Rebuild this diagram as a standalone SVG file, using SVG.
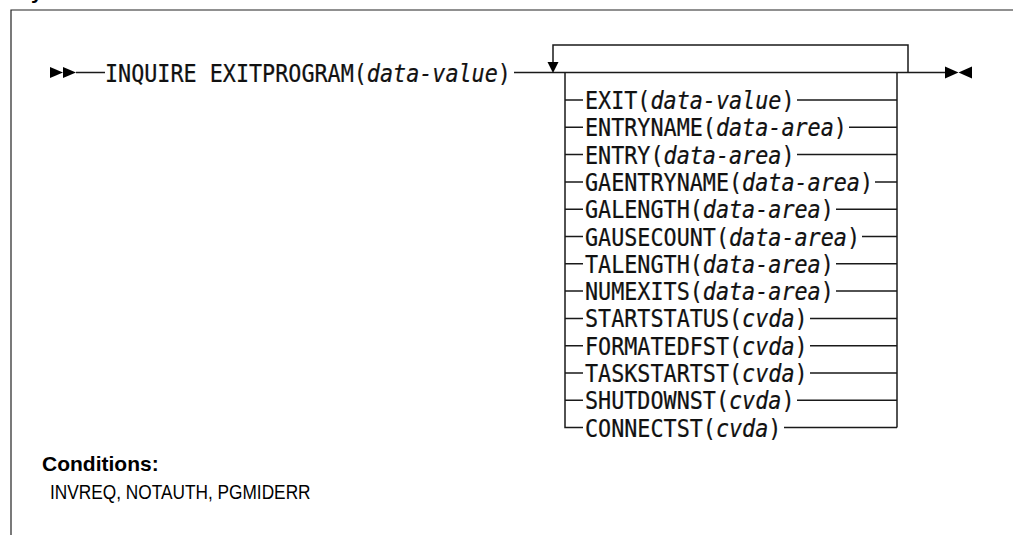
<svg xmlns="http://www.w3.org/2000/svg" width="1013" height="535" viewBox="0 0 1013 535">
<style>
.ln{stroke:#1a1a1a;stroke-width:1.5;fill:none}
.fr{stroke:#222;stroke-width:1.2;fill:none}
.ah{fill:#000;stroke:none}
.m{font-family:"DejaVu Sans Mono","Liberation Mono",monospace;font-size:25px;fill:#111;stroke:#111;stroke-width:0.25}
.i{font-style:italic}
.h{font-family:"Liberation Sans",Arial,sans-serif;font-size:20px;fill:#000}
.b{font-weight:bold;font-size:21px}
</style>
<rect width="1013" height="535" fill="#fff"/>
<g id="frame">
<text class="h b" x="31" y="-1">y</text>
<path class="fr" d="M11 535 V10 H1013"/>
</g>
<g id="connectors">
<path class="ln" d="M76 72.5 H105"/>
<path class="ln" d="M514 72.5 H945"/>
<path class="ln" d="M908 72.5 V45 H553 V63"/>
<path class="ln" d="M565 72.5 V427.6 H583"/>
<path class="ln" d="M897 72.5 V427.6"/>
<path class="ln" d="M565 100 H583 M797 100 H897"/>
<path class="ln" d="M565 127.3 H583 M849 127.3 H897"/>
<path class="ln" d="M565 154.6 H583 M797 154.6 H897"/>
<path class="ln" d="M565 181.9 H583 M875 181.9 H897"/>
<path class="ln" d="M565 209.2 H583 M836 209.2 H897"/>
<path class="ln" d="M565 236.5 H583 M862 236.5 H897"/>
<path class="ln" d="M565 263.8 H583 M836 263.8 H897"/>
<path class="ln" d="M565 291.1 H583 M836 291.1 H897"/>
<path class="ln" d="M565 318.4 H583 M810 318.4 H897"/>
<path class="ln" d="M565 345.7 H583 M810 345.7 H897"/>
<path class="ln" d="M565 373 H583 M810 373 H897"/>
<path class="ln" d="M565 400.3 H583 M797 400.3 H897"/>
<path class="ln" d="M784 427.6 H897"/>
<polygon class="ah" points="547.5,62 558.5,62 553,73"/>
<polygon class="ah" points="50,67 50,78 63,72.5"/>
<polygon class="ah" points="63,67 63,78 76,72.5"/>
<polygon class="ah" points="945,66.5 945,78.5 958.5,72.5"/>
<polygon class="ah" points="972,66.5 972,78.5 958.5,72.5"/>
</g>
<g id="command">
<text class="m" transform="translate(105 81.5) scale(0.8704 1)">INQUIRE EXITPROGRAM(<tspan class="i">data-value</tspan>)</text>
</g>
<g id="opt-exit"><text class="m" transform="translate(585 109) scale(0.8704 1)">EXIT(<tspan class="i">data-value</tspan>)</text></g>
<g id="opt-entryname"><text class="m" transform="translate(585 136.3) scale(0.8704 1)">ENTRYNAME(<tspan class="i">data-area</tspan>)</text></g>
<g id="opt-entry"><text class="m" transform="translate(585 163.6) scale(0.8704 1)">ENTRY(<tspan class="i">data-area</tspan>)</text></g>
<g id="opt-gaentryname"><text class="m" transform="translate(585 190.9) scale(0.8704 1)">GAENTRYNAME(<tspan class="i">data-area</tspan>)</text></g>
<g id="opt-galength"><text class="m" transform="translate(585 218.2) scale(0.8704 1)">GALENGTH(<tspan class="i">data-area</tspan>)</text></g>
<g id="opt-gausecount"><text class="m" transform="translate(585 245.5) scale(0.8704 1)">GAUSECOUNT(<tspan class="i">data-area</tspan>)</text></g>
<g id="opt-talength"><text class="m" transform="translate(585 272.8) scale(0.8704 1)">TALENGTH(<tspan class="i">data-area</tspan>)</text></g>
<g id="opt-numexits"><text class="m" transform="translate(585 300.1) scale(0.8704 1)">NUMEXITS(<tspan class="i">data-area</tspan>)</text></g>
<g id="opt-startstatus"><text class="m" transform="translate(585 327.4) scale(0.8704 1)">STARTSTATUS(<tspan class="i">cvda</tspan>)</text></g>
<g id="opt-formatedfst"><text class="m" transform="translate(585 354.7) scale(0.8704 1)">FORMATEDFST(<tspan class="i">cvda</tspan>)</text></g>
<g id="opt-taskstartst"><text class="m" transform="translate(585 382) scale(0.8704 1)">TASKSTARTST(<tspan class="i">cvda</tspan>)</text></g>
<g id="opt-shutdownst"><text class="m" transform="translate(585 409.3) scale(0.8704 1)">SHUTDOWNST(<tspan class="i">cvda</tspan>)</text></g>
<g id="opt-connectst"><text class="m" transform="translate(585 436.6) scale(0.8704 1)">CONNECTST(<tspan class="i">cvda</tspan>)</text></g>
<g id="conditions">
<text class="h b" x="42" y="471">Conditions:</text>
<text class="h" transform="translate(50 499) scale(0.864 1)">INVREQ, NOTAUTH, PGMIDERR</text>
</g>
</svg>
